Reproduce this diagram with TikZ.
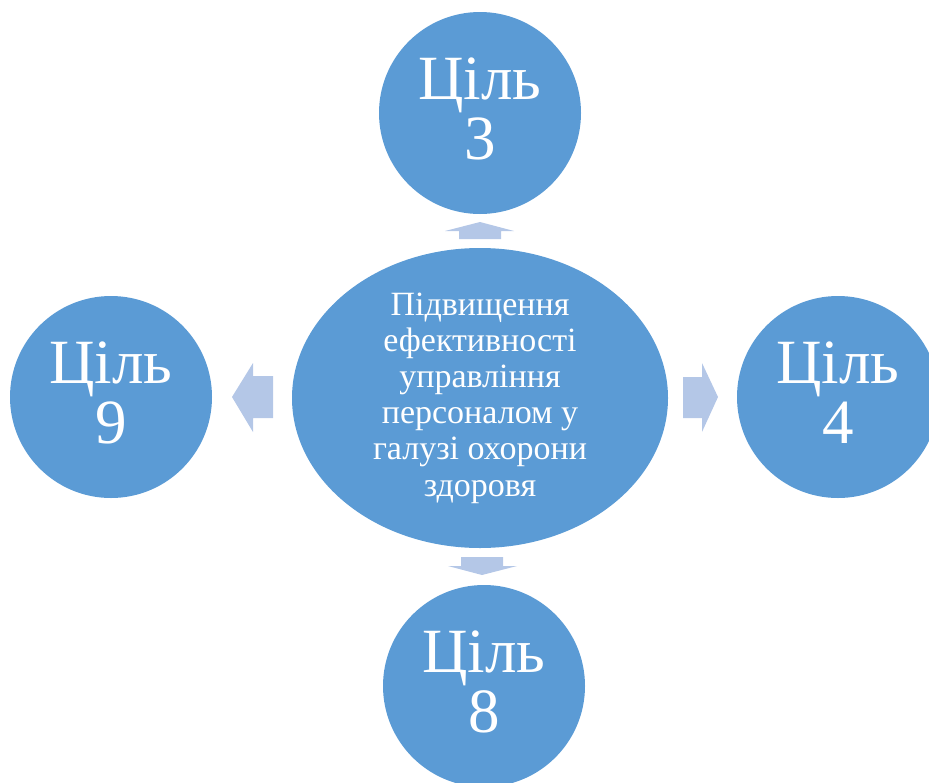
\documentclass[tikz,border=0pt]{standalone}
\usepackage{fontspec}
\setmainfont{Liberation Serif}
\usetikzlibrary{shapes.geometric}
\definecolor{goalblue}{HTML}{5B9BD5}
\definecolor{arrowblue}{HTML}{B4C7E7}
\tikzset{
  goal/.style={circle, fill=goalblue, draw=none, minimum size=202pt, inner sep=0pt,
    text=white, align=center, text depth=8pt, font=\fontsize{63}{60}\selectfont},
  hub/.style={ellipse, fill=goalblue, draw=none, minimum width=376pt, minimum height=300pt,
    inner sep=0pt, text=white, align=center, font=\fontsize{34}{36.2}\selectfont},
  blockarrow/.style={fill=arrowblue, draw=none}
}
\begin{document}
\begin{tikzpicture}[x=1pt,y=-1pt]
\useasboundingbox (0,0) rectangle (929,782);
\node[hub] (c) at (480,398) {Підвищення\\ефективності\\управління\\персоналом у\\галузі охорони\\здоровя};
\node[goal] (g3) at (480,113) {Ціль\\3};
\node[goal] (g8) at (484,686) {Ціль\\8};
\node[goal] (g9) at (111,397) {Ціль\\9};
\node[goal] (g4) at (838,397) {Ціль\\4};
% up arrow
\fill[blockarrow] (459,239) -- (459,231) -- (445,231) -- (480,222) -- (514,231) -- (501,231) -- (501,239) -- cycle;
% down arrow
\fill[blockarrow] (461,557) -- (503,557) -- (503,566) -- (517,566) -- (482,575) -- (448,566) -- (461,566) -- cycle;
% left arrow
\fill[blockarrow] (273,376) -- (253,376) -- (253,363) -- (232,397) -- (253,432) -- (253,418) -- (273,418) -- cycle;
% right arrow
\fill[blockarrow] (683,377) -- (702,377) -- (702,363) -- (718,397) -- (702,432) -- (702,418) -- (683,418) -- cycle;
\end{tikzpicture}
\end{document}
